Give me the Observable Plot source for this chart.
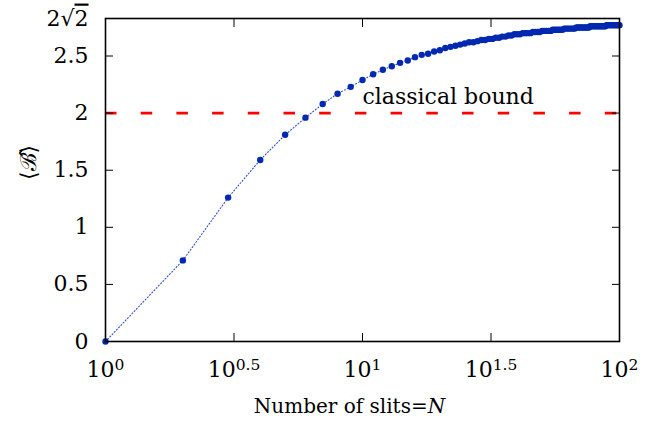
<!DOCTYPE html>
<html>
<head>
<meta charset="utf-8">
<script src="https://cdn.jsdelivr.net/npm/d3@7"></script>
<script src="https://cdn.jsdelivr.net/npm/@observablehq/plot@0.6"></script>
<style>
  html, body { margin: 0; padding: 0; background: #fff; }
  #chart svg { display: block; }
</style>
</head>
<body>
<div id="chart"></div>
<script>
// Number of slits N
const slits = [1,2,3,4,5,6,7,8,9,10,11,12,13,14,15,16,17,18,19,20,
  21,22,23,24,25,26,27,28,29,30,31,32,33,34,35,36,37,38,39,40,
  41,42,43,44,45,46,47,48,49,50,51,52,53,54,55,56,57,58,59,60,
  61,62,63,64,65,66,67,68,69,70,71,72,73,74,75,76,77,78,79,80,
  81,82,83,84,85,86,87,88,89,90,91,92,93,94,95,96,97,98,99,100];
// <B> values
const bell = [0,0.71,1.26,1.59,1.81,1.96,2.08,2.17,2.23,2.29,2.34,2.38,2.41,2.44,2.46,2.49,2.51,2.52,2.54,2.55,
  2.57,2.58,2.59,2.60,2.61,2.62,2.62,2.63,2.64,2.64,2.65,2.65,2.66,2.66,2.67,2.67,2.68,2.68,2.69,2.69,
  2.69,2.70,2.70,2.70,2.70,2.71,2.71,2.71,2.71,2.72,2.72,2.72,2.72,2.72,2.73,2.73,2.73,2.73,2.73,2.73,
  2.74,2.74,2.74,2.74,2.74,2.74,2.74,2.75,2.75,2.75,2.75,2.75,2.75,2.75,2.75,2.75,2.76,2.76,2.76,2.76,
  2.76,2.76,2.76,2.76,2.76,2.76,2.76,2.76,2.77,2.77,2.77,2.77,2.77,2.77,2.77,2.77,2.77,2.77,2.77,2.77];
const classicalBound = [2];
const boundLabel = [{N: 10, B: 2, text: "classical bound"}];
const xTickExponents = [0, 0.5, 1, 1.5, 2];
const yTicks = [0, 0.5, 1, 1.5, 2, 2.5, 2 * Math.SQRT2];
const xLabel = "Number of slits=";
const yLabel = "\u27E8\u212C\u0302\u27E9";

const data = slits.map((n, i) => ({N: n, B: bell[i]}));
const xTicks = xTickExponents.map(e => Math.pow(10, e));

const serif = "'DejaVu Serif', serif";

const plot = Plot.plot({
  width: 663,
  height: 431,
  marginLeft: 105,
  marginRight: 44,
  marginTop: 18,
  marginBottom: 90,
  style: {fontSize: "22px", background: "#fff", color: "#000"},
  x: {type: "log", domain: [1, 100]},
  y: {domain: [0, 2 * Math.SQRT2]},
  marks: [
    Plot.ruleY(classicalBound, {stroke: "#ff0000", strokeWidth: 2.6, strokeDasharray: "11.5,24.2"}),
    Plot.line(data, {x: "N", y: "B", stroke: "#2a48d8", strokeWidth: 1.1, strokeDasharray: "1,2.2"}),
    Plot.dot(data, {x: "N", y: "B", r: 3.2, fill: "#0028b0", stroke: null}),
    Plot.text(boundLabel, {x: "N", y: "B", text: "text", textAnchor: "start", dy: -16, fontSize: 22, fontFamily: serif}),
    Plot.frame({stroke: "#000", strokeWidth: 1.6}),
    Plot.axisX({anchor: "bottom", ticks: xTicks, tickSize: -8, tickPadding: 28, tickFormat: d => String(Math.round(Math.log10(d) * 10) / 10), label: null, fontSize: 22, fontFamily: serif}),
    Plot.axisX({anchor: "top", ticks: xTicks, tickSize: -8, text: null, label: null}),
    Plot.axisY({anchor: "left", ticks: yTicks, tickSize: -8, tickPadding: 25, tickFormat: d => (Math.abs(d - 2 * Math.SQRT2) < 1e-6 ? "SQ" : String(d)), label: null, fontSize: 22, fontFamily: serif}),
    Plot.axisY({anchor: "right", ticks: yTicks, tickSize: -8, text: null, label: null}),
    Plot.text([yLabel], {frameAnchor: "left", dx: -77, rotate: -90, text: d => d, fontSize: 22, fontFamily: serif}),
    Plot.text([xLabel], {frameAnchor: "bottom", dx: -13, dy: 71, text: d => d, fontSize: 20, fontFamily: serif, textAnchor: "middle"})
  ]
});

document.getElementById("chart").appendChild(plot);

// Superscript exponents on x tick labels
d3.select(plot).selectAll('g[aria-label="x-axis tick label"] text').each(function() {
  const t = d3.select(this);
  const exp = t.text();
  if (exp === "") return;
  t.text(null);
  t.append("tspan").text("10");
  t.append("tspan").attr("dy", "-0.45em").attr("font-size", "15.5px").text(exp);
});
// 2√2 label
d3.select(plot).selectAll('g[aria-label="y-axis tick label"] text').each(function() {
  const t = d3.select(this);
  if (t.text() === "SQ") {
    t.text(null);
    t.append("tspan").text("2\u221A");
    t.append("tspan").style("text-decoration", "overline").text("2");
  }
});
// italic N in x label
d3.select(plot).selectAll("text").each(function() {
  const t = d3.select(this);
  if (t.text() === xLabel) {
    t.append("tspan").attr("font-style", "italic").text("N");
  }
});
</script>
</body>
</html>
